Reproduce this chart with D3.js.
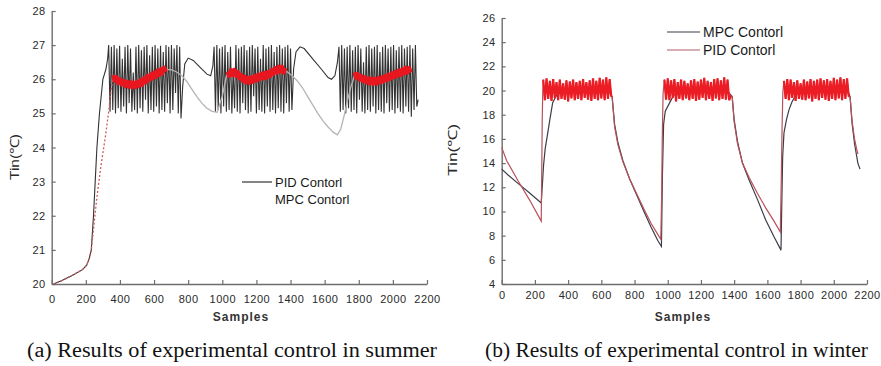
<!DOCTYPE html>
<html>
<head>
<meta charset="utf-8">
<script src="https://cdn.jsdelivr.net/npm/d3@7"></script>
<style>
  html, body { margin: 0; padding: 0; background: #fff; }
  svg { display: block; }
</style>
</head>
<body>
<svg id="chart" width="881" height="366"></svg>
<script>
// ---- axis / text data ----
const xTicks = [0, 200, 400, 600, 800, 1000, 1200, 1400, 1600, 1800, 2000, 2200];
const summerYTicks = [20, 21, 22, 23, 24, 25, 26, 27, 28];
const winterYTicks = [4, 6, 8, 10, 12, 14, 16, 18, 20, 22, 24, 26];
const captions = ["(a) Results of experimental control in summer", "(b) Results of experimental control in winter"];
const summerLegend = ["PID Contorl", "MPC Contorl"];
const winterLegend = ["MPC Contorl", "PID Contorl"];

// ---- summer, PID (black) : [sample, temp] pairs + oscillation bursts sampled every 8 ----
const summerPidRise = [[10,20.0],[60,20.1],[120,20.25],[180,20.42],[205,20.55],[220,20.75],[232,21.0],[245,22.0],[255,23.0],[265,24.0],[280,25.0],[300,26.0],[318,26.3],[328,26.6]];
const summerPidBurst1 = [27.0,25.05,26.95,25.1,27.0,25.0,26.9,25.15,26.98,25.05,26.6,25.2,26.95,25.0,27.0,25.3,26.9,25.05,26.2,25.1,26.95,25.0,27.0,25.15,26.85,25.05,26.95,25.4,27.0,25.0,26.7,25.1,26.95,25.05,27.0,25.2,26.9,25.0,26.98,25.1,26.8,25.05,27.0,25.3,26.95,25.0,27.0,25.1,26.9,25.6,27.0,25.0,26.95,24.85];
const summerPidGap1 = [[768,25.8],[780,26.45],[800,26.62],[830,26.55],[870,26.35],[910,26.15],[932,26.1],[945,26.4]];
const summerPidBurst2 = [26.95,25.05,27.0,25.1,26.9,25.0,26.95,25.2,27.0,25.05,26.8,25.1,26.95,25.0,26.3,25.15,27.0,25.05,26.9,25.0,26.95,25.3,27.0,25.1,26.85,25.0,26.95,25.05,27.0,25.5,26.9,25.0,26.95,25.1,26.6,25.05,27.0,25.0,26.9,25.2,26.95,25.05,27.0,25.1,26.8,25.0,26.95,25.15,27.0,25.05,26.9,25.0,26.95,25.3,27.0,25.05,26.9,25.1];
const summerPidGap2 = [[1418,26.3],[1432,26.8],[1455,26.95],[1480,26.9],[1530,26.6],[1580,26.3],[1620,26.05],[1640,26.0],[1660,26.1],[1675,26.5]];
const summerPidBurst3 = [26.95,25.05,27.0,25.1,26.9,25.0,26.95,25.15,27.0,25.05,26.85,25.1,26.95,25.0,27.0,25.4,26.9,25.05,26.5,25.0,26.95,25.1,27.0,25.05,26.9,25.2,26.95,25.0,27.0,25.1,26.8,25.05,26.95,25.0,27.0,25.3,26.9,25.05,26.95,25.1,27.0,25.0,26.85,25.15,26.95,25.05,27.0,25.0,26.9,25.2,26.95,25.05,27.0,24.9,26.9,25.1,27.0,25.2,25.4];
const summerBurstStart = [334, 952, 1684];

// ---- summer, MPC (red) ----
const summerMpcRise = [[10,20.0],[60,20.1],[120,20.25],[180,20.42],[205,20.55],[220,20.75],[232,21.0],[245,21.6],[264,22.5],[287,23.4],[317,24.4],[334,25.05],[346,25.6],[360,26.05]];
const summerMpcBand1 = [26.12,25.95,26.06,25.88,26.0,25.85,25.96,25.8,25.93,25.78,25.92,25.76,25.9,25.77,25.93,25.8,25.98,25.83,26.03,25.9,26.1,25.97,26.15,26.02,26.2,26.06,26.26,26.12,26.3,26.17,26.34,26.22];
const summerMpcGap1 = [[670,26.28],[700,26.28],[730,26.22],[760,26.12],[790,25.95],[820,25.72],[850,25.5],[880,25.3],[910,25.15],[940,25.06],[970,25.03],[1000,25.5],[1020,26.0],[1030,26.2]];
const summerMpcBand2 = [26.22,26.09,26.27,26.12,26.28,26.1,26.22,26.02,26.14,25.95,26.08,25.9,26.05,25.89,26.06,25.92,26.1,25.96,26.14,26.0,26.17,26.02,26.19,26.04,26.22,26.09,26.28,26.15,26.33,26.19,26.37,26.22,26.37,26.19,26.33];
const summerMpcGap2 = [[1370,26.3],[1380,26.22],[1410,26.1],[1440,25.95],[1470,25.75],[1500,25.5],[1530,25.25],[1560,25.0],[1590,24.78],[1620,24.6],[1650,24.45],[1675,24.37],[1695,24.55],[1715,24.95],[1735,25.4],[1755,25.8],[1775,26.1]];
const summerMpcBand3 = [26.2,26.04,26.15,25.98,26.1,25.94,26.06,25.9,26.03,25.87,26.02,25.86,26.02,25.87,26.04,25.9,26.06,25.93,26.1,25.97,26.14,26.01,26.18,26.05,26.22,26.09,26.26,26.12,26.3,26.16,26.34,26.19,26.33,26.2];
const summerBandStart = [360, 1030, 1775];

// ---- winter, MPC (dark) ----
const winterMpcCycle1 = [[0,13.5],[40,13.0],[100,12.3],[170,11.5],[238,10.7],[244,12.0],[252,13.8],[262,15.2],[275,16.3],[290,17.6],[307,19.0],[330,19.6],[350,19.8],[450,19.9],[550,19.85],[650,19.8]];
const winterMpcCycle2 = [[665,19.5],[680,17.2],[700,15.7],[730,14.2],[770,12.7],[815,11.3],[860,9.9],[900,8.7],[940,7.6],[962,7.1],[968,13.0],[975,17.2],[985,18.3],[1012,19.0],[1035,19.6],[1060,19.8],[1200,19.9],[1370,19.8]];
const winterMpcCycle3 = [[1388,19.5],[1400,17.6],[1420,15.8],[1450,14.0],[1490,12.6],[1540,11.0],[1590,9.3],[1640,7.9],[1682,6.8],[1686,10.0],[1692,14.5],[1700,16.5],[1715,17.6],[1730,18.4],[1748,19.05],[1770,19.6],[1790,19.8],[1950,19.9],[2090,19.8]];
const winterMpcTail = [[2098,19.5],[2110,17.3],[2125,15.6],[2145,14.0],[2158,13.5]];

// ---- winter, PID (red) ----
const winterPidDrop1 = [[0,15.3],[30,14.2],[100,12.5],[170,10.9],[238,9.2],[241,13.0],[244,17.5],[247,19.8]];
const winterPidBand1 = [20.9,19.2,21.0,19.3,20.8,19.15,20.95,19.4,20.7,19.2,20.9,19.3,20.6,19.25,20.85,19.1,20.75,19.35,20.9,19.2,20.7,19.3,20.8,19.2,20.95,19.4,20.7,19.25,20.85,19.15,21.0,19.3,20.8,19.2,21.05,19.35,20.9,19.2,21.1,19.3,20.95,19.5];
const winterPidDrop2 = [[665,19.5],[680,17.0],[700,15.5],[730,14.1],[770,12.7],[815,11.4],[860,10.1],[900,9.0],[940,8.1],[958,7.7],[963,11.0],[967,16.0],[972,19.8]];
const winterPidBand2 = [20.9,19.25,21.0,19.2,20.85,19.4,20.95,19.1,20.7,19.3,20.9,19.2,20.8,19.35,20.6,19.2,20.85,19.3,20.95,19.15,20.75,19.25,20.9,19.4,21.05,19.2,20.8,19.3,20.7,19.15,20.95,19.35,21.0,19.2,20.85,19.3,21.1,19.25,20.9,19.2,19.6];
const winterPidDrop3 = [[1388,19.5],[1400,17.4],[1420,15.6],[1450,14.0],[1490,12.8],[1540,11.5],[1590,10.3],[1640,9.2],[1678,8.3],[1683,12.0],[1688,16.5],[1693,19.8]];
const winterPidBand3 = [20.8,19.3,20.95,19.2,20.9,19.4,20.7,19.15,20.85,19.3,20.6,19.25,20.9,19.2,20.75,19.35,20.95,19.1,20.8,19.3,20.9,19.2,21.0,19.4,20.85,19.25,20.95,19.15,20.8,19.3,21.05,19.2,20.9,19.35,21.1,19.2,20.95,19.3,21.0,19.5];
const winterPidTail = [[2098,19.5],[2110,17.5],[2125,16.0],[2140,15.0],[2146,14.75]];
const winterBandStart = [250, 980, 1700];

// evenly sampled value list -> [sample, value] pairs
const burst = (start, step, values) => values.map((v, i) => [start + i * step, v]);

const sans = '"Liberation Sans", Arial, Helvetica, sans-serif';
const serif = '"Liberation Serif", "Times New Roman", serif';
const svg = d3.select("#chart");

const panels = [
  { x0: 51.7, x1: 427, yTop: 11, yBot: 284, yDomain: [20, 28], yTicks: summerYTicks, xPad: 11,
    caption: captions[0], capX: 27, capLen: 410, samplesX: 241, ylabX: 19, ylabY: 157, ylabLen: 46 },
  { x0: 501.7, x1: 867, yTop: 18, yBot: 284, yDomain: [4, 26], yTicks: winterYTicks, xPad: 7,
    caption: captions[1], capX: 485, capLen: 383, samplesX: 683, ylabX: 457, ylabY: 150, ylabLen: 52 }
];

const scales = panels.map(p => {
  const x = d3.scaleLinear().domain([0, 2200]).range([p.x0, p.x1]);
  const y = d3.scaleLinear().domain(p.yDomain).range([p.yBot, p.yTop]);

  const ax = svg.append("g")
    .attr("transform", "translate(0," + p.yBot + ")")
    .attr("color", "#6e6e6e")
    .call(d3.axisBottom(x).tickValues(xTicks).tickFormat(d3.format("d"))
      .tickSize(-4).tickSizeOuter(0).tickPadding(p.xPad));
  const ay = svg.append("g")
    .attr("transform", "translate(" + p.x0 + ",0)")
    .attr("color", "#6e6e6e")
    .call(d3.axisLeft(y).tickValues(p.yTicks).tickFormat(d3.format("d"))
      .tickSize(-4).tickSizeOuter(0).tickPadding(6));

  [ax, ay].forEach(a => {
    a.select(".domain").attr("stroke-width", 1.4);
    a.selectAll(".tick line").attr("stroke-width", 1.2);
    a.selectAll(".tick text")
      .attr("fill", "#2a2a2a")
      .attr("font-family", sans)
      .attr("font-size", 11)
      .attr("letter-spacing", "0.5px");
  });

  svg.append("text")
    .attr("x", p.samplesX).attr("y", 321)
    .attr("text-anchor", "middle")
    .attr("font-family", sans).attr("font-size", 12).attr("font-weight", "bold")
    .attr("letter-spacing", "1px").attr("fill", "#333")
    .text("Samples");

  svg.append("text")
    .attr("transform", "translate(" + p.ylabX + "," + p.ylabY + ") rotate(-90)")
    .attr("text-anchor", "middle")
    .attr("font-family", sans).attr("font-size", 12.5)
    .attr("textLength", p.ylabLen).attr("lengthAdjust", "spacingAndGlyphs")
    .attr("fill", "#2a2a2a")
    .text("Tin(\u2103)");

  svg.append("text")
    .attr("x", p.capX).attr("y", 357)
    .attr("font-family", serif).attr("font-size", 20)
    .attr("textLength", p.capLen).attr("lengthAdjust", "spacingAndGlyphs")
    .attr("fill", "#111")
    .text(p.caption);

  return { x, y };
});

// ---------- summer ----------
{
  const { x, y } = scales[0];
  const line = d3.line().x(d => x(d[0])).y(d => y(d[1]));
  const g = svg.append("g").attr("fill", "none");

  const pid = [
    ...summerPidRise,
    ...burst(summerBurstStart[0], 8, summerPidBurst1),
    ...summerPidGap1,
    ...burst(summerBurstStart[1], 8, summerPidBurst2),
    ...summerPidGap2,
    ...burst(summerBurstStart[2], 8, summerPidBurst3)
  ];
  g.append("path").attr("d", line(pid)).attr("stroke", "#333").attr("stroke-width", 1.1);

  g.append("path").attr("d", line(summerMpcRise))
    .attr("stroke", "#cf5a60").attr("stroke-width", 1.3).attr("stroke-dasharray", "2,2");
  [summerMpcGap1, summerMpcGap2].forEach(gap => {
    g.append("path").attr("d", line(gap)).attr("stroke", "#b9b3b3").attr("stroke-width", 1.3);
  });
  [summerMpcBand1, summerMpcBand2, summerMpcBand3].forEach((band, i) => {
    g.append("path").attr("d", line(burst(summerBandStart[i], 10, band)))
      .attr("stroke", "#e8161e").attr("stroke-width", 4).attr("stroke-linejoin", "round");
  });

  // legend
  const lg = svg.append("g").attr("font-family", sans).attr("font-size", 13).attr("fill", "#1a1a1a");
  lg.append("line").attr("x1", 242).attr("x2", 272).attr("y1", 182).attr("y2", 182)
    .attr("stroke", "#333").attr("stroke-width", 1.2);
  lg.selectAll("text").data(summerLegend).enter().append("text")
    .attr("x", 275).attr("y", (d, i) => 187 + i * 17)
    .text(d => d);
}

// ---------- winter ----------
{
  const { x, y } = scales[1];
  const line = d3.line().x(d => x(d[0])).y(d => y(d[1]));
  const g = svg.append("g").attr("fill", "none");

  const mpc = [...winterMpcCycle1, ...winterMpcCycle2, ...winterMpcCycle3, ...winterMpcTail];
  const bands = [winterPidBand1, winterPidBand2, winterPidBand3].map((b, i) => burst(winterBandStart[i], 10, b));
  const pid = [
    ...winterPidDrop1, ...bands[0],
    ...winterPidDrop2, ...bands[1],
    ...winterPidDrop3, ...bands[2],
    ...winterPidTail
  ];

  g.append("path").attr("d", line(mpc)).attr("stroke", "#3c3c48").attr("stroke-width", 1.2);
  g.append("path").attr("d", line(pid)).attr("stroke", "#b9505a").attr("stroke-width", 1.2);
  bands.forEach(b => {
    g.append("path").attr("d", line(b)).attr("stroke", "#ec1c24").attr("stroke-width", 2.2);
  });

  const lg = svg.append("g").attr("font-family", sans).attr("font-size", 14).attr("fill", "#1a1a1a");
  const legendColors = ["#3c3c48", "#b06068"];
  lg.selectAll("line").data(winterLegend).enter().append("line")
    .attr("x1", 667).attr("x2", 700)
    .attr("y1", (d, i) => 32 + i * 18).attr("y2", (d, i) => 32 + i * 18)
    .attr("stroke", (d, i) => legendColors[i]).attr("stroke-width", 1.2);
  lg.selectAll("text").data(winterLegend).enter().append("text")
    .attr("x", 703).attr("y", (d, i) => 37 + i * 18)
    .text(d => d);
}
</script>
</body>
</html>
